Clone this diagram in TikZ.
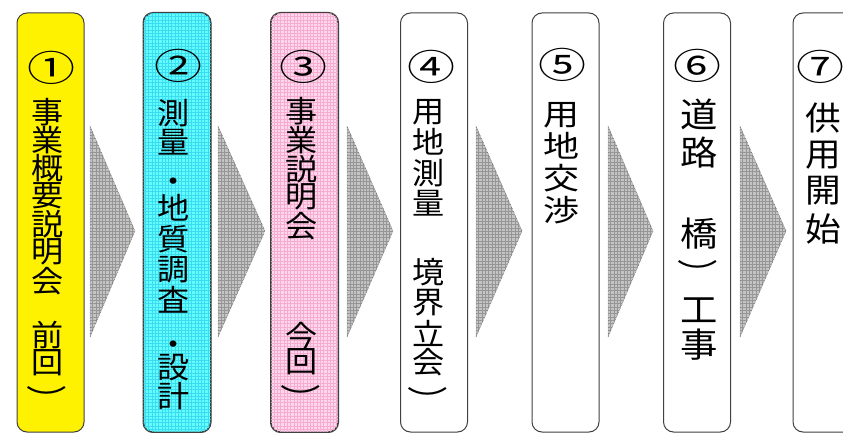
\documentclass[tikz,border=0pt]{standalone}
\usepackage{fontspec}
\usepackage{graphicx}
\newfontfamily\jp{Noto Sans CJK JP}
\definecolor{edge}{rgb}{0.25,0.25,0.25}
\definecolor{cyanbase}{RGB}{100,253,255}
\definecolor{cyangrid}{RGB}{60,220,240}
\definecolor{pinkbase}{RGB}{255,214,236}
\definecolor{pinkgrid}{RGB}{244,172,208}
\definecolor{arrbase}{RGB}{196,196,196}
\definecolor{arrgrid}{RGB}{150,150,150}
\definecolor{arredge}{RGB}{90,90,90}
\tikzset{
  x=1pt, y=-1pt,
  stage/.style={draw=edge, line width=1pt, rounded corners=10pt, minimum width=67pt, minimum height=419pt, inner sep=0pt},
  stageedge/.style={draw=edge, line width=1pt, rounded corners=10pt},
  gridlines/.style={line width=0.35pt, step=3.3pt},
  chevronedge/.style={draw=arredge, densely dotted, line width=0.5pt},
  ch/.style={inner sep=0pt, font=\jp\fontsize{#1}{#1}\selectfont},
  num/.style={inner sep=0pt, font=\jp\fontsize{32}{32}\selectfont},
}
% name, x, font size, x-scale, list of char/y
\newcommand\vcol[5]{\foreach \c/\y [count=\i] in {#5} \node[ch=#3] (#1-\i) at (#2,\y) {\scalebox{#4}[1]{\c}};}
\newcommand\circnum[1]{\scalebox{1.5}[1.12]{#1}}
\begin{document}
\begin{tikzpicture}
\clip (0,0) rectangle (843,433);
% stages
\node[stage, fill=yellow] (b1) at (50.5,222.5) {};
\node[stage, fill=cyanbase] (b2) at (177,222.5) {};
\node[stage, fill=pinkbase] (b3) at (304.5,222.5) {};
\node[stage, fill=white] (b4) at (434,222.5) {};
\node[stage, fill=white] (b5) at (565.5,222.5) {};
\node[stage, fill=white] (b6) at (697,222.5) {};
\node[stage, fill=white] (b7) at (826.5,222.5) {};
\foreach \b/\g in {b2/cyangrid, b3/pinkgrid} {
  \begin{scope}
    \clip[rounded corners=10pt] (\b.north west) rectangle (\b.south east);
    \begin{scope}[y=1pt]
      \draw[gridlines, \g] (\b.south west) grid (\b.north east);
    \end{scope}
  \end{scope}
  \draw[stageedge] (\b.north west) rectangle (\b.south east);
}
% chevrons
\foreach \xa/\xb [count=\k] in {90/135, 218/265, 347/393, 476/522, 608/653, 740/786} {
  \begin{scope}
    \clip (\xa,126) -- (\xb,231) -- (\xa,337) -- cycle;
    \fill[arrbase] (\xa,126) rectangle (\xb,337);
    \begin{scope}[y=1pt]
      \draw[gridlines, arrgrid] (\xa,-337) grid (\xb,-126);
    \end{scope}
  \end{scope}
  \draw[chevronedge] (\xa,126) -- (\xb,231) -- (\xa,337) -- cycle;
}
% numbers
\node[num] (n1) at (51.5,68) {\circnum{①}};
\node[num] (n2) at (178.5,66) {\circnum{②}};
\node[num] (n3) at (303,67) {\circnum{③}};
\node[num] (n4) at (431,67) {\circnum{④}};
\node[num] (n5) at (562,65) {\circnum{⑤}};
\node[num] (n6) at (697,66) {\circnum{⑥}};
\node[num] (n7) at (820,67) {\circnum{⑦}};
% texts
\vcol{t1}{48}{30}{1.07}{事/112, 業/140, 概/168, 要/196, 説/224, 明/252, 会/281, 前/335, 回/363}
\vcol{t2}{174}{30}{1.07}{測/113, 量/142, ・/185, 地/208, 質/239, 調/270, 査/300, ・/348, 設/368, 計/396}
\vcol{t3}{302}{30}{1.07}{事/111, 業/140, 説/169, 明/197, 会/226, 今/336, 回/362}
\vcol{t4}{429}{30}{1.07}{用/112, 地/142, 測/173, 量/203, 境/272, 界/303, 立/333, 会/362}
\vcol{t5}{561.5}{30}{1.2}{用/115, 地/146, 交/178, 渉/210}
\vcol{t6}{699}{34}{1.1}{道/114, 路/153, 橋/234, 工/310, 事/345}
\vcol{t7}{823}{33}{1.08}{供/118, 用/155, 開/191, 始/229}
% closing brackets (vertical form)
\node[ch=30] (p1) at (47,399) {\scalebox{1.35}[1]{︶}};
\node[ch=30] (p3) at (301,398) {\scalebox{1.35}[1]{︶}};
\node[ch=30] (p4) at (428,400) {\scalebox{1.35}[1]{︶}};
\node[ch=30] (p6) at (698,273) {\scalebox{1.35}[1]{︶}};
\end{tikzpicture}
\end{document}
